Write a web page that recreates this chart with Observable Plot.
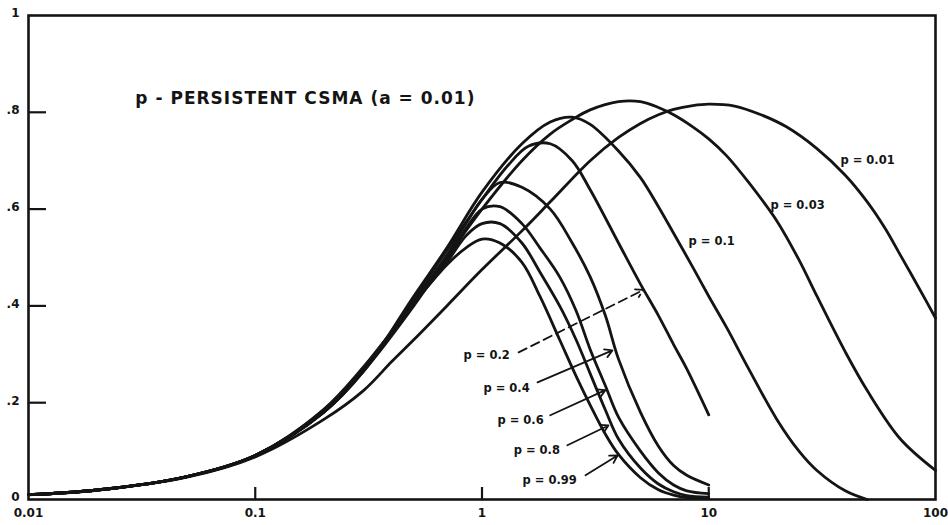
<!DOCTYPE html>
<html><head><meta charset="utf-8">
<script src="https://cdn.jsdelivr.net/npm/d3@7"></script>
<script src="https://cdn.jsdelivr.net/npm/@observablehq/plot@0.6"></script>
<style>
html,body{margin:0;padding:0;background:#fff;}
</style></head><body><div id="chart"></div>
<script>
// Offered load G (log axis) and throughput S for each persistence probability p
const G_p001 = [0.01,0.02,0.05,0.1,0.2,0.3,0.4,0.5,0.7,1,1.5,2,3,4,5,6,7,8.5,10,13,17,22,30,40,50,60,70,85,100];
const S_p001 = [0.0098,0.019,0.046,0.088,0.165,0.225,0.285,0.33,0.40,0.475,0.555,0.615,0.70,0.748,0.777,0.795,0.806,0.814,0.817,0.813,0.795,0.77,0.725,0.67,0.615,0.56,0.505,0.435,0.375];

const G_p003 = [0.01,0.02,0.05,0.1,0.2,0.3,0.5,0.7,1,1.5,2,2.5,3,4,5,6,7,8.5,10,12,15,20,25,30,40,50,70,100];
const S_p003 = [0.0099,0.0196,0.0475,0.091,0.18,0.265,0.40,0.50,0.60,0.70,0.755,0.785,0.805,0.822,0.822,0.81,0.795,0.77,0.745,0.71,0.655,0.575,0.495,0.42,0.305,0.225,0.125,0.06];

const G_p01 = [0.01,0.02,0.05,0.1,0.2,0.3,0.5,0.7,1,1.5,2,2.5,3,4,5,6,7,8.5,10,12,15,20,25,30,40,50];
const S_p01 = [0.0099,0.0196,0.0475,0.091,0.18,0.265,0.42,0.52,0.635,0.735,0.78,0.79,0.775,0.72,0.665,0.605,0.55,0.48,0.42,0.355,0.27,0.165,0.10,0.06,0.018,0.0];

const G_p02 = [0.01,0.02,0.05,0.1,0.2,0.3,0.5,0.7,1,1.3,1.6,2,2.5,3,4,5,6,7,8,10];
const S_p02 = [0.0099,0.0196,0.0475,0.091,0.18,0.265,0.415,0.515,0.62,0.69,0.73,0.735,0.70,0.64,0.53,0.445,0.38,0.32,0.27,0.175];

const G_p04 = [0.01,0.02,0.05,0.1,0.2,0.3,0.5,0.7,0.85,1,1.2,1.5,2,2.5,3,3.5,4,5,6,7,8,10];
const S_p04 = [0.0099,0.0196,0.0475,0.091,0.18,0.27,0.41,0.505,0.57,0.62,0.655,0.645,0.60,0.53,0.46,0.38,0.29,0.18,0.11,0.07,0.05,0.03];

const G_p06 = [0.01,0.02,0.05,0.1,0.2,0.3,0.5,0.7,0.85,1,1.2,1.5,1.8,2.2,2.6,3,3.5,4,5,6,7,8,10];
const S_p06 = [0.0099,0.0196,0.0475,0.091,0.182,0.27,0.405,0.495,0.56,0.60,0.605,0.57,0.52,0.46,0.39,0.31,0.235,0.17,0.10,0.055,0.03,0.018,0.012];

const G_p08 = [0.01,0.02,0.05,0.1,0.2,0.3,0.5,0.7,0.85,1,1.2,1.5,1.8,2.2,2.6,3,3.5,4,5,6,7,8,10];
const S_p08 = [0.0099,0.0196,0.0475,0.091,0.184,0.272,0.405,0.49,0.545,0.57,0.57,0.53,0.47,0.40,0.33,0.26,0.185,0.125,0.065,0.032,0.016,0.008,0.005];

const G_p099 = [0.01,0.02,0.05,0.1,0.2,0.3,0.5,0.7,0.85,1,1.2,1.5,1.8,2.2,2.6,3,3.5,4,5,6,7,8,10];
const S_p099 = [0.0099,0.0196,0.0475,0.091,0.186,0.274,0.405,0.485,0.52,0.538,0.53,0.49,0.42,0.33,0.255,0.195,0.135,0.093,0.045,0.02,0.009,0.004,0.002];

const pValues = ["0.01","0.03","0.1","0.2","0.4","0.6","0.8","0.99"];

// Axis ticks
const xTicks = [0.01,0.1,1,10,100];
const xTickLabels = ["0.01","0.1","1","10","100"];
const xInnerTicks = [0.1,1,10];
const yTicks = [0,0.2,0.4,0.6,0.8,1];
const yTickLabels = ["0",".2",".4",".6",".8","1"];
const yInnerTicks = [0.2,0.4,0.6,0.8];

// Title and curve labels (anchored at left end, in data units)
const titleText = "p - PERSISTENT CSMA (a = 0.01)";
const titleG = 0.0296, titleS = 0.828;
const curveLabels = ["p = 0.01","p = 0.03","p = 0.1","p = 0.2","p = 0.4","p = 0.6","p = 0.8","p = 0.99"];
const labelG = [38.1,18.7,8.15,0.829,1.015,1.17,1.38,1.51];
const labelS = [0.70,0.607,0.534,0.298,0.230,0.163,0.101,0.040];

// Leader arrows from labels to curves
const leaderNames = ["p = 0.2","p = 0.4","p = 0.6","p = 0.8","p = 0.99"];
const leaderG1 = [1.45,1.757,2.0,2.38,2.86];
const leaderS1 = [0.304,0.242,0.174,0.112,0.050];
const leaderG2 = [5.15,3.76,3.50,3.61,3.96];
const leaderS2 = [0.433,0.308,0.226,0.153,0.091];
const leaderDashed = [true,false,false,false,false];

const seriesG = [G_p001,G_p003,G_p01,G_p02,G_p04,G_p06,G_p08,G_p099];
const seriesS = [S_p001,S_p003,S_p01,S_p02,S_p04,S_p06,S_p08,S_p099];
const rows = pValues.flatMap((p, k) => seriesG[k].map((g, i) => ({p, G: g, S: seriesS[k][i]})));
const labels = curveLabels.map((t, i) => ({t, G: labelG[i], S: labelS[i]}));
const leaders = leaderNames.map((n, i) => ({n, x1: leaderG1[i], y1: leaderS1[i], x2: leaderG2[i], y2: leaderS2[i], dashed: leaderDashed[i]}));
const xLab = new Map(xTicks.map((d, i) => [d, xTickLabels[i]]));
const yLab = new Map(yTicks.map((d, i) => [d, yTickLabels[i]]));

const ink = "#141414";
const chart = Plot.plot({
  width: 948, height: 525,
  marginLeft: 28, marginRight: 13, marginTop: 15, marginBottom: 26,
  x: {type: "log", domain: [0.01, 100], label: null},
  y: {domain: [0, 1], label: null},
  style: {fontFamily: "DejaVu Sans, sans-serif", background: "#fff", color: ink},
  marks: [
    Plot.line(rows, {x: "G", y: "S", z: "p", stroke: ink, strokeWidth: 2.8, curve: "catmull-rom"}),
    Plot.frame({stroke: ink, strokeWidth: 2.6}),
    Plot.axisX(xTicks, {tickSize: 0, tickPadding: 9, tickFormat: d => xLab.get(d), fontSize: 12, fontWeight: "bold", label: null}),
    Plot.axisX(xInnerTicks, {tickSize: -12, tickFormat: () => "", strokeWidth: 2.2, label: null}),
    Plot.axisY(yTicks, {tickSize: 0, tickPadding: 9, tickFormat: d => yLab.get(d), fontSize: 12, fontWeight: "bold", label: null, dy: -2}),
    Plot.axisY(yInnerTicks, {tickSize: -18, tickFormat: () => "", strokeWidth: 2.2, label: null}),
    Plot.text([titleText], {x: () => titleG, y: () => titleS, text: d => d, textAnchor: "start", fontSize: 17, fontWeight: "bold", fill: ink}),
    Plot.text(labels, {x: "G", y: "S", text: "t", textAnchor: "start", fontSize: 11.5, fontWeight: "bold", fill: ink}),
    Plot.arrow(leaders.filter(d => !d.dashed), {x1: "x1", y1: "y1", x2: "x2", y2: "y2", stroke: ink, strokeWidth: 1.8, headLength: 7}),
    Plot.arrow(leaders.filter(d => d.dashed), {x1: "x1", y1: "y1", x2: "x2", y2: "y2", stroke: ink, strokeWidth: 1.8, headLength: 7, strokeDasharray: "9,5"})
  ]
});
chart.querySelectorAll("text").forEach(t => { if (t.textContent === titleText) t.setAttribute("letter-spacing", "1"); });
document.getElementById("chart").append(chart);
</script>
</body></html>
